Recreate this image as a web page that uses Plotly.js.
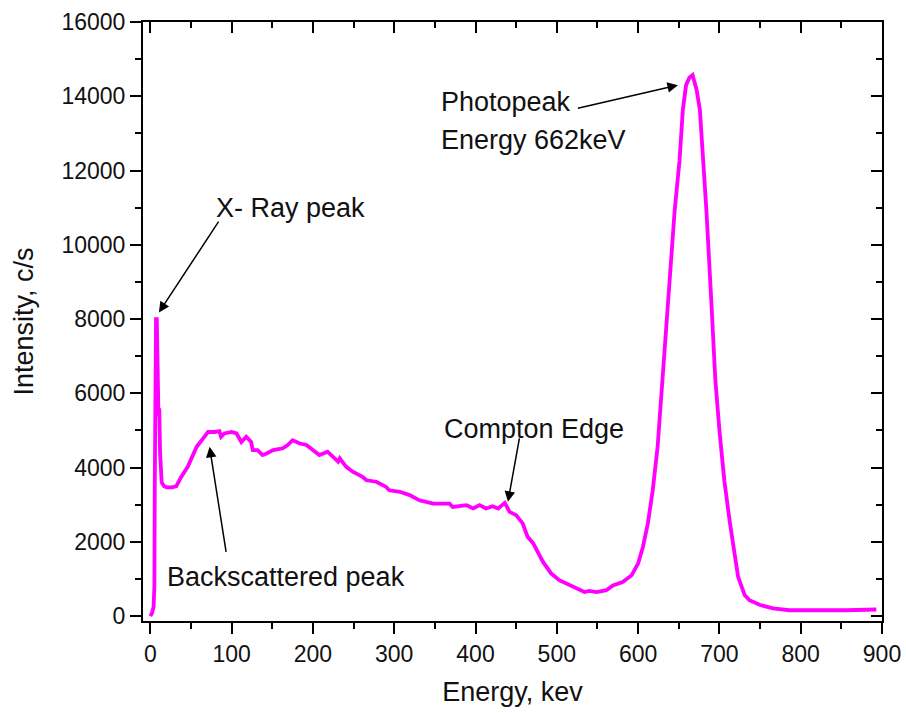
<!DOCTYPE html>
<html>
<head>
<meta charset="utf-8">
<script src="https://cdn.plot.ly/plotly-3.0.1.min.js"></script>
<style>html,body{margin:0;padding:0;background:#fff;}#chart{width:906px;height:713px;}</style>
</head>
<body>
<div id="chart"></div>
<script>
// Energy (keV)
const energy = [0,2,4,5,5.5,6,7,8,9,10,11,12,14,17,20,27,32,38,46,52,57,65,71,79,85,87,91,100,106,112,118,124,126,132,138,143,151,163,169,175,184,192,200,208,218,225,231,233,241,249,261,266,278,290,294,307,319,331,348,368,372,389,397,405,409,413,421,428,436,442,450,458,464,471,483,493,503,512,524,534,540,549,561,569,581,592,600,606,612,618,624,630,637,645,651,655,659,663,667,672,676,680,684,690,695,700,706,713,719,723,731,737,750,766,786,815,836,856,893];
// Intensity (c/s)
const intensity = [0,80,250,800,3600,6200,8000,8000,6300,5400,5600,4400,3600,3500,3470,3470,3500,3750,4020,4300,4560,4790,4960,4960,4980,4830,4920,4960,4920,4690,4830,4690,4470,4470,4340,4380,4470,4520,4610,4740,4650,4610,4470,4340,4430,4290,4160,4250,4020,3890,3750,3660,3620,3480,3390,3350,3260,3120,3030,3030,2940,2990,2900,2990,2940,2900,2960,2900,3050,2810,2720,2500,2140,1960,1460,1150,970,880,750,650,680,650,700,830,920,1100,1420,1870,2500,3390,4560,6360,8500,10930,12280,13630,14300,14500,14570,14170,13630,12280,10930,8500,6360,5010,3660,2500,1600,1060,570,430,300,210,160,160,140,160,180];

// Annotation labels
const labelTexts = ["X- Ray peak","Backscattered peak","Compton Edge","Photopeak","Energy 662keV"];
const labelX = [78, 18, 359, 355, 355];
const labelY = [11000, 1060, 5040, 13840, 12820];
// Arrows: tip (x,y), tail (ax,ay)
const arrowTipX = [10.6, 72.9, 439.9, 649];
const arrowTipY = [8180, 4560, 3080, 14300];
const arrowTailX = [85.2, 93.5, 454.3, 524];
const arrowTailY = [10665, 1690, 4830, 13670];

const xRange = [-9, 900];
const yRange = [-130, 16000];
const FONT = "Liberation Sans, Arial, sans-serif";

const annotations = [];
labelTexts.forEach((t,i)=>annotations.push({
  text: t, x: labelX[i], y: labelY[i], xref:'x', yref:'y',
  xanchor:'left', yanchor:'middle', showarrow:false,
  font:{family:FONT, size:27, color:'#111'}
}));
arrowTipX.forEach((v,i)=>annotations.push({
  text:'', x: v, y: arrowTipY[i], ax: arrowTailX[i], ay: arrowTailY[i],
  xref:'x', yref:'y', axref:'x', ayref:'y',
  showarrow:true, arrowhead:2, arrowsize:1.4, arrowwidth:1.5, arrowcolor:'#000'
}));

const data = [
  {x: energy, y: intensity, type:'scatter', mode:'lines',
   line:{color:'#ff00ff', width:3.8}, hoverinfo:'skip', showlegend:false},
  {x: [], y: [], xaxis:'x2', yaxis:'y2', type:'scatter', mode:'lines', showlegend:false}
];

const baseAxis = {
  showgrid:false, zeroline:false, showline:true, linecolor:'#000', linewidth:2,
  tickcolor:'#000', tickwidth:2, ticklen:11
};

const layout = {
  width:906, height:713,
  margin:{l:143, r:24, t:22, b:92},
  paper_bgcolor:'#fff', plot_bgcolor:'#fff',
  font:{family:FONT, color:'#111'},
  showlegend:false,
  xaxis: Object.assign({}, baseAxis, {
    range:xRange, dtick:100, tick0:0, ticks:'outside', tickformat:'d',
    minor:{dtick:50, tick0:0, ticks:'outside', ticklen:6, tickwidth:2, tickcolor:'#000'},
    tickfont:{family:FONT, size:23, color:'#111'},
    title:{text:'Energy, kev', font:{family:FONT, size:27, color:'#111'}, standoff:17}
  }),
  yaxis: Object.assign({}, baseAxis, {
    range:yRange, dtick:2000, tick0:0, ticks:'outside', tickformat:'d',
    minor:{dtick:1000, tick0:0, ticks:'outside', ticklen:6, tickwidth:2, tickcolor:'#000'},
    tickfont:{family:FONT, size:23, color:'#111'},
    title:{text:'Intensity, c/s', font:{family:FONT, size:27, color:'#111'}, standoff:20}
  }),
  xaxis2: Object.assign({}, baseAxis, {
    overlaying:'x', side:'top', anchor:'y2', range:xRange, dtick:100, tick0:0,
    ticks:'inside', showticklabels:false,
    minor:{dtick:50, tick0:0, ticks:'inside', ticklen:6, tickwidth:2, tickcolor:'#000'}
  }),
  yaxis2: Object.assign({}, baseAxis, {
    overlaying:'y', side:'right', anchor:'x2', range:yRange, dtick:2000, tick0:0,
    ticks:'inside', showticklabels:false,
    minor:{dtick:1000, tick0:0, ticks:'inside', ticklen:6, tickwidth:2, tickcolor:'#000'}
  }),
  annotations: annotations
};

Plotly.newPlot('chart', data, layout, {staticPlot:true, displayModeBar:false});
</script>
</body>
</html>
